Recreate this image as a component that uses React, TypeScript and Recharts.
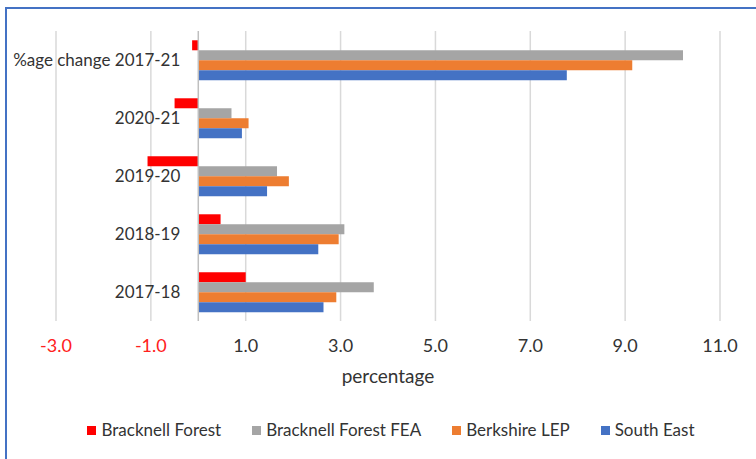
import { Bar, BarChart, CartesianGrid, ReferenceLine, XAxis, YAxis } from "recharts";

const periods = ["%age change 2017-21", "2020-21", "2019-20", "2018-19", "2017-18"];
const bracknellForest = [-0.13, -0.5, -1.07, 0.47, 1.0];
const bracknellFEA = [10.22, 0.7, 1.66, 3.08, 3.7];
const berkshireLEP = [9.15, 1.06, 1.91, 2.96, 2.91];
const southEast = [7.77, 0.92, 1.45, 2.53, 2.64];
const xTicks = [-3, -1, 1, 3, 5, 7, 9, 11];

const series = [
  { key: "bf", name: "Bracknell Forest", color: "#FF0000" },
  { key: "fea", name: "Bracknell Forest FEA", color: "#A5A5A5" },
  { key: "lep", name: "Berkshire LEP", color: "#ED7D31" },
  { key: "se", name: "South East", color: "#4472C4" },
];

const data = periods.map((period, i) => ({
  period,
  bf: bracknellForest[i],
  fea: bracknellFEA[i],
  lep: berkshireLEP[i],
  se: southEast[i],
}));

const W = 756;
const H = 459;
const Y_AXIS_W = 10;
const margin = { top: 31, right: 36, bottom: 76, left: 56 - Y_AXIS_W };
const plotW = W - margin.left - Y_AXIS_W - margin.right;
const X_MIN = -3;
const X_MAX = 11;
const zeroX = margin.left + Y_AXIS_W + ((0 - X_MIN) / (X_MAX - X_MIN)) * plotW;
const font = "Lato, 'Noto Sans', sans-serif";

const renderCategoryTick = ({ y, payload }: any) => (
  <text key={payload.value} x={zeroX - 18} y={y} dy="0.35em" textAnchor="end" fill="#333333" fontSize={17} fontFamily={font}>
    {payload.value}
  </text>
);

const renderValueTick = ({ x, y, payload }: any) => {
  const v = payload.value as number;
  return (
    <text key={v} x={x} y={y} dy="0.71em" textAnchor="middle" fill={v < 0 ? "#FF2020" : "#333333"} fontSize={18} fontFamily={font}>
      {v.toFixed(1)}
    </text>
  );
};

export default function App() {
  return (
    <div style={{ position: "absolute", left: 0, top: 0, width: W, height: H, overflow: "hidden", background: "#fff" }}>
      <div
        style={{
          position: "absolute",
          left: 5,
          top: 7,
          width: W + 10,
          height: H + 10,
          borderTop: "2px solid #4472C4",
          borderLeft: "2px solid #4472C4",
        }}
      />
      <div style={{ position: "absolute", left: 0, top: 0 }}>
        <BarChart width={W} height={H} data={data} layout="vertical" margin={margin} barCategoryGap="16%" barGap={0}>
          <CartesianGrid horizontal={false} stroke="#D9D9D9" strokeWidth={1.5} />
          <XAxis
            type="number"
            domain={[X_MIN, X_MAX]}
            ticks={xTicks}
            axisLine={false}
            tickLine={false}
            tickMargin={12}
            height={62}
            tick={renderValueTick}
            label={{ value: "percentage", position: "insideBottom", offset: 0, fill: "#333333", fontSize: 19, fontFamily: font }}
          />
          <YAxis
            type="category"
            dataKey="period"
            width={Y_AXIS_W}
            interval={0}
            axisLine={false}
            tickLine={false}
            tick={renderCategoryTick}
          />
          <ReferenceLine x={0} stroke="#BFBFBF" strokeWidth={1.5} />
          {series.map((s) => (
            <Bar key={s.key} dataKey={s.key} name={s.name} fill={s.color} isAnimationActive={false} />
          ))}
        </BarChart>
      </div>
      <div
        style={{
          position: "absolute",
          left: 26,
          top: 419,
          width: 730,
          display: "flex",
          justifyContent: "center",
          gap: 31,
          fontFamily: font,
          fontSize: 17,
          color: "#333333",
          lineHeight: "22px",
        }}
      >
        {series.map((s) => (
          <div key={s.key} style={{ display: "flex", alignItems: "center" }}>
            <span style={{ width: 9, height: 9, background: s.color, marginRight: 5, display: "inline-block" }} />
            <span>{s.name}</span>
          </div>
        ))}
      </div>
    </div>
  );
}
